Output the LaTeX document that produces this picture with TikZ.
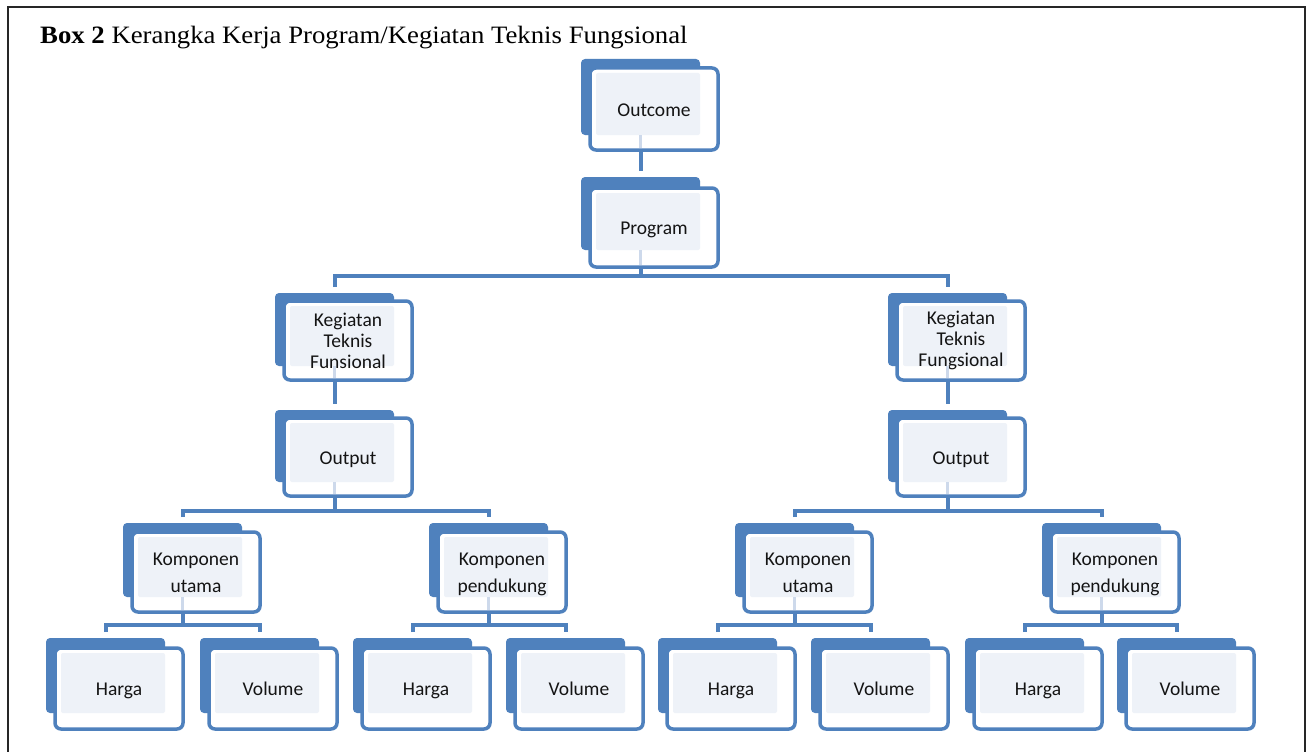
\documentclass[tikz,border=0pt]{standalone}
\usepackage{graphicx}
\usepackage{fontspec}
\setmainfont{Liberation Serif}
\newfontfamily\smfont{Carlito}
\usetikzlibrary{calc}
\definecolor{smblue}{RGB}{79,129,189}
\definecolor{lightc}{RGB}{238,242,248}
\definecolor{stubc}{RGB}{205,217,235}
\definecolor{txtc}{RGB}{20,20,20}
\newcommand\mystrut{\rule[-3pt]{0pt}{20.4pt}}
\newcommand\smart[7]{%
  \node[backbox, minimum height=#4pt] (#1b) at (#2,#3) {};
  \node[frontbox, minimum height=#6pt,
    path picture={\fill[lightc, rounded corners=2pt] ([shift={(6pt,-5pt)}]path picture bounding box.north west) rectangle (#1b.south east);}]
    (#1) at ($(#2,#5)+(9,0)$) {#7};
}
\begin{document}
\begin{tikzpicture}[x=1pt,y=-1pt,
  backbox/.style={draw=none, fill=smblue, rounded corners=4pt, inner sep=0pt, outer sep=0pt, minimum width=119pt, anchor=north west},
  frontbox/.style={draw=smblue, line width=3.5pt, fill=white, rounded corners=6pt, inner sep=0pt, outer sep=0pt, minimum width=128pt, anchor=north west, font=\smfont\fontsize{19.5}{21}\selectfont, text=txtc, align=center},
  conn/.style={draw=smblue, line width=4pt, line join=miter},
  stub/.style={draw=stubc, line width=3.5pt},
  frame/.style={draw=black!85, line width=2pt}]
\useasboundingbox (0,0) rectangle (1307,752);
\fill[white] (0,0) rectangle (1307,752);
\draw[frame] (8,752) -- (8,7) -- (1305,7) -- (1305,752);
\node[anchor=base west, inner sep=0pt] (title) at (40,44)
  {\scalebox{1.07}[1]{\fontsize{25}{28}\selectfont\textbf{Box 2} Kerangka Kerja Program/Kegiatan Teknis Fungsional}};

% level 1-2
\smart{out}{581}{59}{76}{68}{82}{\mystrut Outcome}
\smart{prog}{581}{177}{73}{188}{79}{\mystrut Program}
% level 3
\smart{ktfL}{275}{293}{73}{301}{79}{Kegiatan\\Teknis\\Funsional}
\smart{ktfR}{888}{293}{73}{301}{79}{Kegiatan\\Teknis\\Fungsional}
% level 4
\smart{opL}{275}{410}{72}{418}{78}{\mystrut Output}
\smart{opR}{888}{410}{72}{418}{78}{\mystrut Output}
% level 5
\smart{kuL}{123}{523}{74}{532}{80}{\mystrut Komponen\\[6pt]utama\mystrut}
\smart{kpL}{429}{523}{74}{532}{80}{\mystrut Komponen\\[6pt]pendukung\mystrut}
\smart{kuR}{735}{523}{74}{532}{80}{\mystrut Komponen\\[6pt]utama\mystrut}
\smart{kpR}{1042}{523}{74}{532}{80}{\mystrut Komponen\\[6pt]pendukung\mystrut}
% level 6
\smart{h1}{46}{638}{75}{648}{81}{\mystrut Harga}
\smart{v1}{200}{638}{75}{648}{81}{\mystrut Volume}
\smart{h2}{353}{638}{75}{648}{81}{\mystrut Harga}
\smart{v2}{506}{638}{75}{648}{81}{\mystrut Volume}
\smart{h3}{658}{638}{75}{648}{81}{\mystrut Harga}
\smart{v3}{811}{638}{75}{648}{81}{\mystrut Volume}
\smart{h4}{965}{638}{75}{648}{81}{\mystrut Harga}
\smart{v4}{1117}{638}{75}{648}{81}{\mystrut Volume}

\coordinate (bar1) at (0,276);
\coordinate (bar2) at (0,510.5);
\coordinate (bar3) at (0,624.5);

% light stubs under parents
\foreach \p in {out,prog,ktfL,ktfR,opL,opR,kuL,kpL,kuR,kpR}{
  \draw[stub] (\p b.south) -- ($(\p b.south |- \p.south)+(0,-2)$);
}

% connectors
\draw[conn] (outb.south |- out.south) -- ([yshift=6pt]progb.north);
\draw[conn] (progb.south |- prog.south) -- (progb.south |- bar1);
\draw[conn] ([yshift=6pt]ktfLb.north) -- (ktfLb.north |- bar1) -- (ktfRb.north |- bar1) -- ([yshift=6pt]ktfRb.north);
\draw[conn] (ktfLb.south |- ktfL.south) -- ([yshift=6pt]opLb.north);
\draw[conn] (ktfRb.south |- ktfR.south) -- ([yshift=6pt]opRb.north);
\draw[conn] (opLb.south |- opL.south) -- (opLb.south |- bar2);
\draw[conn] (opRb.south |- opR.south) -- (opRb.south |- bar2);
\draw[conn] ([yshift=6pt]kuLb.north) -- (kuLb.north |- bar2) -- (kpLb.north |- bar2) -- ([yshift=6pt]kpLb.north);
\draw[conn] ([yshift=6pt]kuRb.north) -- (kuRb.north |- bar2) -- (kpRb.north |- bar2) -- ([yshift=6pt]kpRb.north);
\foreach \p/\a/\b in {kuL/h1/v1, kpL/h2/v2, kuR/h3/v3, kpR/h4/v4}{
  \draw[conn] (\p b.south |- \p.south) -- (\p b.south |- bar3);
  \draw[conn] ([yshift=6pt]\a b.north) -- (\a b.north |- bar3) -- (\b b.north |- bar3) -- ([yshift=6pt]\b b.north);
}
\end{tikzpicture}
\end{document}
